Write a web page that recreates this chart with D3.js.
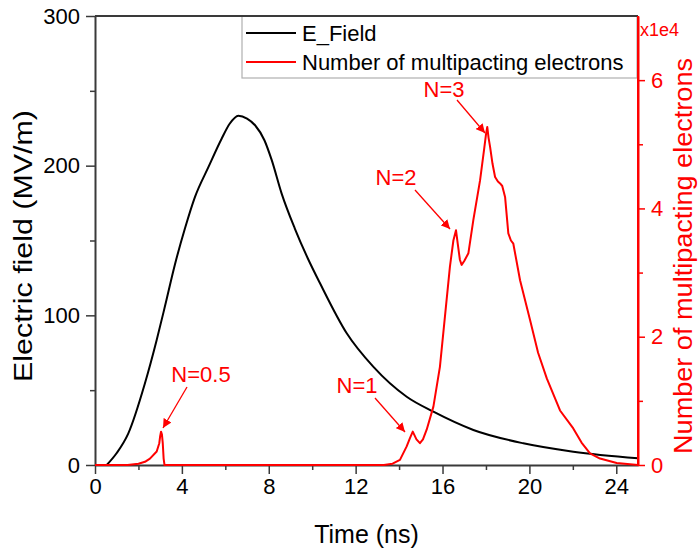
<!DOCTYPE html>
<html>
<head>
<meta charset="utf-8">
<script src="https://cdn.jsdelivr.net/npm/d3@7"></script>
<style>
  body { margin: 0; background: #fff; }
  text { font-family: "Liberation Sans", Arial, sans-serif; }
</style>
</head>
<body>
<div id="chart"></div>
<script>
// time (ns) and E field (MV/m)
const fieldTime = [0.54, 1.0, 1.53, 2.3, 2.84, 3.22, 3.68, 4.14, 4.6, 5.22, 5.83, 6.2, 6.6, 7.0, 7.37, 7.8, 8.13, 8.59, 9.2, 9.8, 10.36, 11.59, 12.81, 14.35, 15.58, 17.42, 19.72, 22.02, 25.0];
const fieldValue = [0, 8, 21, 54.6, 83.5, 106, 134, 158, 179, 199, 218, 228, 233.4, 231.5, 227, 217, 204, 181.5, 158, 138, 121.4, 88, 65.7, 45.6, 35.6, 23.4, 14.5, 8.9, 4.5];

// number of multipacting electrons, in units of 1e4
const elecTime = [0, 1.5, 2.0, 2.3, 2.53, 2.84, 2.96, 3.0, 3.04, 3.08, 3.12, 3.16, 3.2, 13.3, 13.7, 14.04, 14.35, 14.5, 14.63, 14.8, 14.96, 15.1, 15.27, 15.58, 15.88, 16.11, 16.34, 16.5, 16.62, 16.7, 16.8, 16.88, 17.0, 17.19, 17.42, 17.73, 17.91, 18.0, 18.06, 18.12, 18.19, 18.3, 18.42, 18.55, 18.65, 18.75, 18.88, 19.03, 19.15, 19.26, 19.57, 20.03, 20.4, 20.8, 21.41, 22.02, 22.4, 22.79, 23.25, 24.02, 25];
const elecValue = [0, 0, 0.02, 0.05, 0.1, 0.21, 0.34, 0.45, 0.52, 0.48, 0.34, 0.1, 0, 0, 0.02, 0.08, 0.29, 0.42, 0.52, 0.4, 0.34, 0.4, 0.55, 0.91, 1.53, 2.31, 3.09, 3.5, 3.66, 3.45, 3.2, 3.12, 3.18, 3.3, 3.82, 4.44, 4.91, 5.15, 5.27, 5.1, 4.96, 4.7, 4.49, 4.42, 4.39, 4.35, 4.18, 3.61, 3.5, 3.45, 2.88, 2.26, 1.75, 1.35, 0.85, 0.57, 0.35, 0.18, 0.1, 0.03, 0];

const xTicks = [0, 4, 8, 12, 16, 20, 24];
const yLeftTicks = [0, 100, 200, 300];
const yRightTicks = [0, 2, 4, 6];

const noteLabels = ["N=0.5", "N=1", "N=2", "N=3"];

const margin = { top: 16, right: 60, bottom: 85, left: 95 },
  width = 698 - margin.left - margin.right,
  plotH = 449;

const svg = d3.select("#chart")
  .append("svg")
  .attr("width", 698)
  .attr("height", 550)
  .append("g")
  .attr("transform", `translate(${margin.left}, ${margin.top})`);

const x = d3.scaleLinear().domain([0, 25]).range([0, width]);
const yL = d3.scaleLinear().domain([0, 300]).range([plotH, 0]);
const yR = d3.scaleLinear().domain([0, 7]).range([plotH, 0]);

const axisColor = "#3a3a3a";
const red = "#ff0000";
const font = "'Liberation Sans', Arial, sans-serif";

// minor ticks
svg.append("g")
  .attr("transform", `translate(0, ${plotH})`)
  .call(d3.axisBottom(x).tickValues([2, 6, 10, 14, 18, 22]).tickSize(5).tickFormat(""))
  .call(g => g.select(".domain").remove())
  .call(g => g.selectAll("line").attr("stroke", axisColor).attr("stroke-width", 1.5));
svg.append("g")
  .call(d3.axisLeft(yL).tickValues([50, 150, 250]).tickSize(5).tickFormat(""))
  .call(g => g.select(".domain").remove())
  .call(g => g.selectAll("line").attr("stroke", axisColor).attr("stroke-width", 1.5));
svg.append("g")
  .attr("transform", `translate(${width}, 0)`)
  .call(d3.axisRight(yR).tickValues([1, 3, 5]).tickSize(5).tickFormat(""))
  .call(g => g.select(".domain").remove())
  .call(g => g.selectAll("line").attr("stroke", red).attr("stroke-width", 1.5));

// main axes
svg.append("g")
  .attr("transform", `translate(0, ${plotH})`)
  .call(d3.axisBottom(x).tickValues(xTicks).tickSize(9).tickSizeOuter(0).tickPadding(4))
  .call(g => g.select(".domain").attr("stroke", axisColor).attr("stroke-width", 2))
  .call(g => g.selectAll("line").attr("stroke", axisColor).attr("stroke-width", 1.5))
  .call(g => g.selectAll("text").attr("fill", "#000").style("font-size", "22px").style("font-family", font));

svg.append("g")
  .call(d3.axisLeft(yL).tickValues(yLeftTicks).tickSize(9).tickSizeOuter(0).tickPadding(6))
  .call(g => g.select(".domain").attr("stroke", axisColor).attr("stroke-width", 2))
  .call(g => g.selectAll("line").attr("stroke", axisColor).attr("stroke-width", 1.5))
  .call(g => g.selectAll("text").attr("fill", "#000").style("font-size", "22px").style("font-family", font));

svg.append("g")
  .attr("transform", `translate(${width}, 0)`)
  .call(d3.axisRight(yR).tickValues(yRightTicks).tickSize(7).tickSizeOuter(0).tickPadding(6)
    .tickFormat(d3.format("d")))
  .call(g => g.select(".domain").attr("stroke", red).attr("stroke-width", 2))
  .call(g => g.selectAll("line").attr("stroke", red).attr("stroke-width", 1.5))
  .call(g => g.selectAll("text").attr("fill", red).style("font-size", "22px").style("font-family", font));

// the curves
const fieldData = fieldTime.map((t, i) => ({ t: t, v: fieldValue[i] }));
const elecData = elecTime.map((t, i) => ({ t: t, v: elecValue[i] }));

svg.append("path")
  .datum(fieldData)
  .attr("fill", "none")
  .attr("stroke", "#000")
  .attr("stroke-width", 2)
  .attr("d", d3.line().x(d => x(d.t)).y(d => yL(d.v)).curve(d3.curveMonotoneX));

svg.append("path")
  .datum(elecData)
  .attr("fill", "none")
  .attr("stroke", red)
  .attr("stroke-width", 2)
  .attr("stroke-linejoin", "round")
  .attr("d", d3.line().x(d => x(d.t)).y(d => yR(d.v)));

// arrow head marker
svg.append("defs").append("marker")
  .attr("id", "arrow")
  .attr("viewBox", "0 0 10 10")
  .attr("refX", 10).attr("refY", 5)
  .attr("markerWidth", 9).attr("markerHeight", 9)
  .attr("markerUnits", "userSpaceOnUse")
  .attr("orient", "auto")
  .append("path")
  .attr("d", "M0,0 L10,5 L0,10 z")
  .attr("fill", red);

// label and arrow placement, page pixels
const noteLayout = [
  { tx: 201, ty: 382, sx: 187, sy: 387, ex: 163, ey: 428 },
  { tx: 357, ty: 393, sx: 375, sy: 398, ex: 405, ey: 432 },
  { tx: 396, ty: 185, sx: 415, sy: 190, ex: 450, ey: 229 },
  { tx: 444, ty: 97, sx: 457, sy: 100, ex: 485, ey: 133 }
];

const notes = svg.append("g").attr("transform", `translate(${-margin.left}, ${-margin.top})`);
noteLabels.forEach((label, i) => {
  const l = noteLayout[i];
  notes.append("line")
    .attr("x1", l.sx).attr("y1", l.sy)
    .attr("x2", l.ex).attr("y2", l.ey)
    .attr("stroke", red).attr("stroke-width", 1.3)
    .attr("marker-end", "url(#arrow)");
  notes.append("text")
    .attr("x", l.tx).attr("y", l.ty)
    .attr("text-anchor", "middle")
    .attr("fill", red)
    .style("font-size", "22px")
    .text(label);
});

// legend
const legend = svg.append("g").attr("transform", `translate(${242 - margin.left}, 0)`);
legend.append("rect")
  .attr("x", 0).attr("y", 0)
  .attr("width", 637 - 242).attr("height", 62)
  .attr("fill", "#fff")
  .attr("stroke", "#b0b0b0").attr("stroke-width", 1.2);
legend.append("line").attr("x1", 4).attr("x2", 54).attr("y1", 17).attr("y2", 17)
  .attr("stroke", "#000").attr("stroke-width", 2);
legend.append("line").attr("x1", 4).attr("x2", 54).attr("y1", 46).attr("y2", 46)
  .attr("stroke", red).attr("stroke-width", 2);
legend.append("text").attr("x", 60).attr("y", 25).style("font-size", "22px").text("E_Field");
legend.append("text").attr("x", 60).attr("y", 54).style("font-size", "22px").text("Number of multipacting electrons");

// frame: top line and red right axis over the legend
svg.append("line")
  .attr("x1", 0).attr("x2", width).attr("y1", 0).attr("y2", 0)
  .attr("stroke", axisColor).attr("stroke-width", 2);
svg.append("line")
  .attr("x1", width).attr("x2", width).attr("y1", 0).attr("y2", plotH)
  .attr("stroke", red).attr("stroke-width", 2);

// scale factor
svg.append("text")
  .attr("x", width + 2).attr("y", 20)
  .attr("fill", red)
  .style("font-size", "18px")
  .text("x1e4");

// axis titles
svg.append("text")
  .attr("x", width / 2).attr("y", plotH + 78)
  .attr("text-anchor", "middle")
  .style("font-size", "25px")
  .text("Time (ns)");

svg.append("text")
  .attr("transform", `translate(${32 - margin.left}, ${246 - margin.top}) rotate(-90)`)
  .attr("text-anchor", "middle")
  .attr("textLength", 272)
  .attr("lengthAdjust", "spacingAndGlyphs")
  .style("font-size", "25px")
  .text("Electric field (MV/m)");

svg.append("text")
  .attr("transform", `translate(${692 - margin.left}, ${256 - margin.top}) rotate(-90)`)
  .attr("text-anchor", "middle")
  .attr("textLength", 396)
  .attr("lengthAdjust", "spacingAndGlyphs")
  .attr("fill", red)
  .style("font-size", "25px")
  .text("Number of multipacting electrons");
</script>
</body>
</html>
